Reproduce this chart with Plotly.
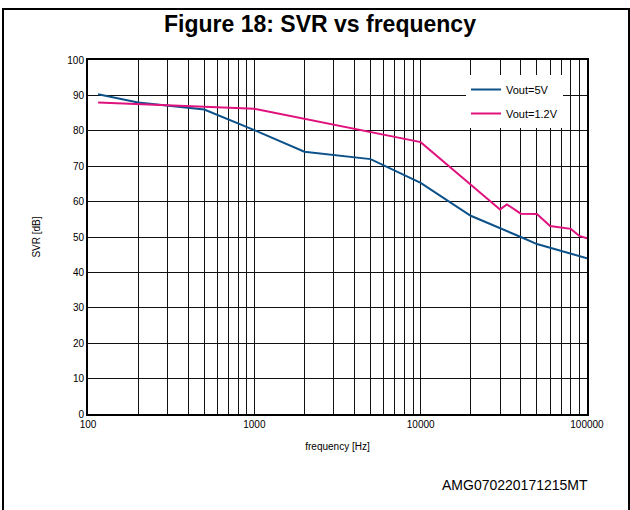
import plotly.graph_objects as go

# Data
freq_5v = [115, 200, 500, 1000, 2000, 5000, 10000, 20000, 40000, 50000, 100000]
svr_5v = [90.3, 88.0, 86.0, 80.2, 74.1, 72.0, 65.3, 56.0, 50.0, 48.0, 44.0]

freq_12v = [115, 1000, 10000, 30000, 33000, 40000, 50000, 60000, 80000, 90000, 100000]
svr_12v = [88.0, 86.2, 76.8, 57.8, 59.2, 56.6, 56.5, 53.1, 52.3, 50.3, 49.6]

x_ticks = [m * 10 ** e for e in range(2, 5) for m in range(1, 10)] + [100000]
x_labels = [str(v) if v in (100, 1000, 10000, 100000) else "" for v in x_ticks]
y_ticks = list(range(0, 101, 10))

FONT = "Liberation Sans, Arial, sans-serif"
W, H = 630, 510
L, T = 88, 60
PW, PH = 499, 354
R, B = W - L - PW, H - T - PH

def px_x(p):
    return (p - L) / PW

def px_y(p):
    return (H - B - p) / PH

fig = go.Figure()
fig.add_trace(go.Scatter(x=freq_5v, y=svr_5v, mode="lines", name="Vout=5V",
                         legendgroup="a", line=dict(color="#0d5189", width=2)))
fig.add_trace(go.Scatter(x=freq_12v, y=svr_12v, mode="lines", name="Vout=1.2V",
                         legendgroup="b", line=dict(color="#e0127d", width=2)))

fig.update_layout(
    width=W, height=H,
    margin=dict(l=L, r=R, t=T, b=B),
    paper_bgcolor="white", plot_bgcolor="white",
    font=dict(family=FONT, color="black"),
    title=dict(text="<b>Figure 18: SVR vs frequency</b>", x=320 / W, xref="container",
               xanchor="center", y=1 - 24 / H, yref="container", yanchor="middle",
               font=dict(size=23, family=FONT, color="black")),
    legend=dict(x=px_x(466), y=px_y(75), xanchor="left", yanchor="top",
                bgcolor="white", borderwidth=0, font=dict(size=11, family=FONT),
                tracegroupgap=5, itemwidth=30, traceorder="grouped"),
    showlegend=True,
)
fig.update_xaxes(type="log", range=[2, 5], tickmode="array", tickvals=x_ticks,
                 ticktext=x_labels, showgrid=True, gridcolor="#111111", gridwidth=1,
                 showline=True, linecolor="black", linewidth=2, mirror=True,
                 ticks="", tickfont=dict(size=10), zeroline=False,
                 title=dict(text="frequency [Hz]", font=dict(size=10), standoff=14))
fig.update_yaxes(range=[0, 100], tickmode="array", tickvals=y_ticks,
                 showgrid=True, gridcolor="#111111", gridwidth=1,
                 showline=True, linecolor="black", linewidth=2, mirror=True,
                 ticks="", tickfont=dict(size=10), zeroline=False,
                 title=dict(text="SVR [dB]", font=dict(size=10), standoff=25))

# outer frame
fig.add_shape(type="rect", xref="paper", yref="paper",
              x0=px_x(3), x1=px_x(629), y0=px_y(9), y1=px_y(515),
              line=dict(color="black", width=2), layer="below")

fig.add_annotation(text="AMG070220171215MT", xref="paper", yref="paper",
                   x=px_x(590), y=px_y(485), xanchor="right", yanchor="middle",
                   showarrow=False, font=dict(size=14, family=FONT, color="black"))

fig.write_html("out.html", config={"displayModeBar": False},
               post_script="document.body.style.margin='0';document.body.style.overflow='hidden';")
